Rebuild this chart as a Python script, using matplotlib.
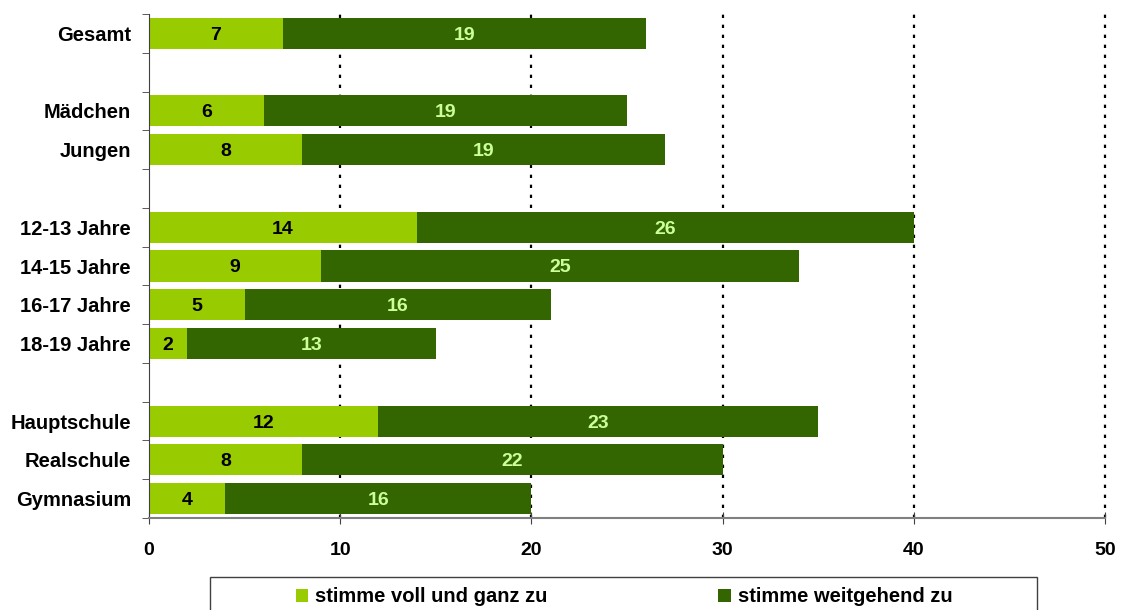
import numpy as np
import matplotlib.pyplot as plt
from matplotlib.patches import Rectangle

# Daten
kategorien = ["Gesamt", "Mädchen", "Jungen", "12-13 Jahre", "14-15 Jahre",
              "16-17 Jahre", "18-19 Jahre", "Hauptschule", "Realschule", "Gymnasium"]
gruppen = [1, 2, 4, 3]
voll = [7, 6, 8, 14, 9, 5, 2, 12, 8, 4]
weitgehend = [19, 19, 19, 26, 25, 16, 13, 23, 22, 16]
serien = ["stimme voll und ganz zu", "stimme weitgehend zu"]

hell = "#99CC00"
dunkel = "#336600"

plt.rcParams['font.family'] = ['Liberation Sans', 'DejaVu Sans']
plt.rcParams['font.weight'] = 'bold'
plt.rcParams['font.size'] = 14

# Zeilenpositionen mit Lücken zwischen den Gruppen
pos = []
y = 0
for g in gruppen:
    for i in range(g):
        pos.append(y)
        y += 1
    y += 1
n_slots = y - 1
pos = np.array(pos)

fig = plt.figure(figsize=(11.23, 6.10), dpi=100)
ax = fig.add_axes([149/1123, 1-518/610, (1105-149)/1123, (518-14)/610])

b1 = ax.barh(pos, voll, height=0.8, color=hell, zorder=2)
b2 = ax.barh(pos, weitgehend, left=voll, height=0.8, color=dunkel, zorder=2)
for t in ax.bar_label(b1, label_type='center', color='black', fontweight='bold', fontsize=14):
    t.set_va('center_baseline')
for t in ax.bar_label(b2, label_type='center', color='#CCFF99', fontweight='bold', fontsize=14):
    t.set_va('center_baseline')

ax.set_xlim(0, 50)
ax.set_ylim(n_slots - 0.5, -0.5)
ax.set_xticks(range(0, 51, 10))
ax.set_yticks(pos)
ax.set_yticklabels(kategorien, fontsize=14.5)
ax.set_yticks(np.arange(-0.5, n_slots, 1), minor=True)
ax.tick_params(axis='y', which='major', length=0, pad=13)
ax.tick_params(axis='y', which='minor', length=5, direction='out', color='#404040')
ax.tick_params(axis='x', which='major', length=8, direction='inout', pad=13, color='#404040')

ax.xaxis.grid(True, linestyle=(0, (1.5, 3)), color='black', linewidth=1.6, zorder=0)
for gl in ax.get_xgridlines():
    gl.set_clip_on(False)
ax.get_xgridlines()[0].set_visible(False)
ax.set_axisbelow(True)
for s in ['top', 'right']:
    ax.spines[s].set_visible(False)
ax.spines['left'].set_color('#404040')
ax.spines['bottom'].set_color('#808080')
ax.spines['bottom'].set_linewidth(1.5)

# Legende
rahmen = Rectangle((210/1123, -0.1), (1037-210)/1123, 0.1 + 1-577/610,
                   transform=fig.transFigure, fill=False, edgecolor='#404040', linewidth=1)
fig.patches.append(rahmen)
leg = fig.legend([b1, b2], serien, loc='center', bbox_to_anchor=(624/1123, 1-597/610),
                 ncol=2, frameon=False, handlelength=0.6, handleheight=0.6,
                 handletextpad=0.35, columnspacing=8.5, fontsize=14.5)

plt.savefig("out.png", dpi=100)
